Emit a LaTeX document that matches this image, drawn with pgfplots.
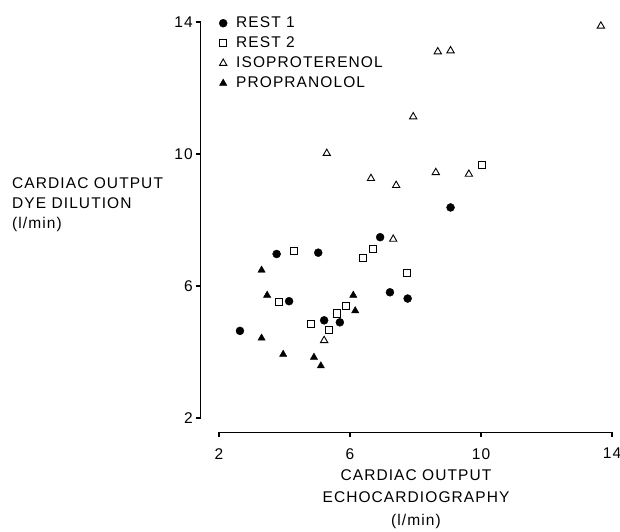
\documentclass[border=0pt]{standalone}
\usepackage{fontspec}
\setmainfont{Liberation Sans}[LetterSpace=7]
\usepackage{pgfplots}
\pgfplotsset{compat=1.18}
\newcommand\lbl{\fontsize{15.5}{20}\selectfont}
\begin{document}
\begin{tikzpicture}
\begin{axis}[
    at={(0pt,0pt)}, anchor=south west,
    scale only axis, width=393pt, height=396pt,
    xmin=2, xmax=14, ymin=2, ymax=14,
    axis lines=left, axis line style={draw=none},
    axis x line shift=14.5pt, axis y line shift=18.5pt,
    tick align=outside, major tick length=4.5pt,
    tick style={line width=1.1pt, black},
    xtick={2,6,10,14}, ytick={2,6,10,14},
    clip=false,
    tick label style={font=\lbl},
    xticklabel style={inner sep=0pt, yshift=-11pt},
    yticklabel style={inner sep=0pt, xshift=-3pt},
    /pgf/number format/assume math mode=true,
    xlabel={CARDIAC OUTPUT\\ECHOCARDIOGRAPHY\\(l/min)},
    every axis x label/.style={at={(197pt,-51pt)}, anchor=north,
        align=center, font=\fontsize{15.5}{22.5}\selectfont, inner sep=0pt},
    ylabel={CARDIAC OUTPUT\\DYE DILUTION\\(l/min)},
    every axis y label/.style={at={(-207pt,241pt)}, anchor=north west,
        align=left, font=\lbl, inner sep=0pt},
    legend cell align=left,
    legend image code/.code={\draw[#1] plot coordinates {(0pt,0pt)};},
    legend style={draw=none, fill=none, at={(0pt,402pt)}, anchor=north west,
        font=\lbl, inner sep=0pt, row sep=6pt,
        nodes={inner sep=0pt, text height=11pt, text depth=3pt},
        /tikz/every odd column/.append style={column sep=9pt}},
  ]
  % Rest 1
  \addplot[only marks, mark=*, mark size=4pt, black] coordinates {
    (2.64,4.64) (3.76,6.97) (5.03,7.01) (4.14,5.54) (5.21,4.96)
    (5.69,4.90) (6.92,7.48) (7.22,5.81) (7.76,5.62) (9.07,8.38)
  };
  \addlegendentry{REST 1}
  % Rest 2
  \addplot[only marks, mark=square, mark size=3.6pt, black,
      mark options={line width=0.9pt}] coordinates {
    (4.30,7.06) (3.83,5.52) (4.80,4.84) (5.36,4.68) (5.59,5.17)
    (5.88,5.40) (6.39,6.86) (6.71,7.12) (7.73,6.40) (10.02,9.67)
  };
  \addlegendentry{REST 2}
  % Isoproterenol
  \addplot[only marks, mark=triangle, mark size=4.2pt, black,
      mark options={line width=0.9pt}] coordinates {
    (13.66,13.88) (8.68,13.10) (9.07,13.13) (7.93,11.13) (5.29,10.02)
    (6.64,9.26) (7.41,9.05) (8.62,9.44) (9.63,9.39) (7.32,7.42) (5.21,4.35)
  };
  \addlegendentry{ISOPROTERENOL}
  % Propranolol
  \addplot[only marks, mark=triangle*, mark size=4.2pt, black] coordinates {
    (3.30,6.48) (3.47,5.72) (3.30,4.42) (3.96,3.93) (4.90,3.84)
    (5.11,3.58) (6.10,5.72) (6.16,5.25)
  };
  \addlegendentry{PROPRANOLOL}
\end{axis}
% offset axis lines (axis box corner (2,2) sits at the origin)
\draw[black, line width=1.3pt, line cap=rect] (0pt,-14.5pt) -- (393pt,-14.5pt);
\draw[black, line width=1.3pt, line cap=rect] (-18.5pt,0pt) -- (-18.5pt,396pt);
\pgfresetboundingbox
\path[use as bounding box] (-219pt,-113pt) rectangle (401pt,418pt);
\end{tikzpicture}
\end{document}
